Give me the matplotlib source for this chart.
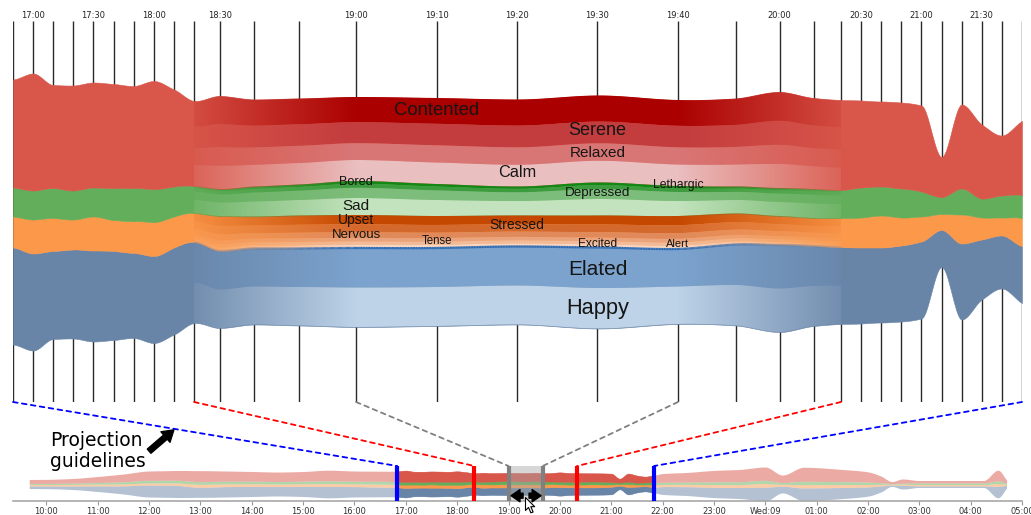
"""Focus+context streamgraph of mood reports, with an overview strip below."""

import numpy as np
import matplotlib
matplotlib.use("Agg")
import matplotlib.pyplot as plt
from matplotlib.collections import LineCollection
from matplotlib.colors import to_rgb
from matplotlib.markers import MarkerStyle
from matplotlib.patches import ConnectionPatch, FancyArrowPatch
from matplotlib.path import Path

# ---- data: aggregate mood counts per sample (hours >= 24 are next day) ----
TIMES = ["09:40", "10:00", "10:30", "11:00", "11:30", "12:00", "12:30", "13:00",
         "13:30", "14:00", "14:30", "15:00", "15:30", "16:00", "16:30",
         "16:50", "17:00", "17:10", "17:20", "17:30", "17:40", "17:50", "18:00",
         "18:10", "18:20", "18:30", "18:40", "18:50", "19:00", "19:10", "19:20",
         "19:30", "19:40", "19:50", "20:00", "20:10", "20:20", "20:30", "20:40",
         "20:50", "21:00", "21:10", "21:20", "21:30", "21:40", "21:50",
         "22:00", "22:30", "23:00", "23:30", "24:00", "24:20", "24:45", "25:30",
         "26:00", "26:15", "26:28", "26:40", "27:00", "27:30", "28:00", "28:15",
         "28:32", "28:42"]
RED = [41, 42, 48, 62, 80, 96, 100, 113, 105, 100, 98, 100, 110, 105, 104,
       108, 117, 103, 105, 105, 104, 102, 108, 97, 85, 93, 87, 86, 84, 86, 87,
       87, 86, 88, 96, 91, 90, 87, 85, 86, 86, 40, 84, 74, 60, 74,
       90, 100, 118, 126, 137, 78, 145, 126, 105, 69, 20, 43, 25, 25, 25, 25,
       110, 33]
GREEN = [10, 11, 13, 17, 22, 28, 28, 28, 28, 27, 26, 27, 29, 28, 29,
         29, 29, 30, 29, 29, 32, 33, 33, 30, 27, 27, 30, 31, 34, 32, 29,
         33, 30, 27, 28, 29, 28, 30, 29, 29, 25, 17, 26, 19, 22, 23,
         22, 24, 28, 30, 33, 19, 34, 30, 25, 17, 8, 11, 17, 17, 17, 17,
         28, 11]
ORANGE = [15, 15, 16, 18, 20, 21, 25, 31, 28, 27, 26, 27, 29, 28, 31,
          31, 34, 33, 30, 34, 31, 32, 34, 31, 29, 35, 32, 33, 33, 32, 31,
          32, 33, 31, 29, 28, 29, 30, 32, 28, 25, 16, 29, 22, 18, 28,
          22, 24, 28, 30, 37, 19, 34, 30, 25, 17, 8, 11, 13, 13, 13, 13,
          28, 11]
BLUE = [27, 28, 36, 58, 84, 123, 125, 103, 107, 104, 97, 104, 117, 107, 100,
        97, 97, 88, 89, 91, 89, 85, 87, 87, 81, 77, 76, 77, 79, 78, 78,
        81, 75, 81, 87, 80, 77, 76, 75, 76, 77, 37, 76, 60, 53, 57,
        81, 92, 106, 114, 143, 69, 132, 114, 95, 62, 14, 38, 17, 17, 17, 17,
        119, 27]

# sub-moods inside each group, top to bottom, as share of the group
RED_MOODS = ["Contented", "Serene", "Relaxed", "Calm"]
RED_SHARE = [0.30, 0.25, 0.20, 0.25]
GREEN_MOODS = ["Bored", "Lethargic", "Depressed", "Sad"]
GREEN_SHARE = [0.08, 0.12, 0.30, 0.50]
ORANGE_MOODS = ["Upset", "Stressed", "Nervous", "Tense", "Excited", "Alert"]
ORANGE_SHARE = [0.28, 0.24, 0.17, 0.11, 0.10, 0.10]
BLUE_MOODS = ["Elated", "Happy"]
BLUE_SHARE = [0.5, 0.5]

# label: mood, time it is written at, font size, nudge up
LABELS = [("Contented", "19:10", 13.3, 0), ("Serene", "19:30", 13, 2),
          ("Relaxed", "19:30", 11, -1), ("Calm", "19:20", 11.7, 3),
          ("Bored", "19:00", 9.2, 0), ("Depressed", "19:30", 9.7, 1),
          ("Lethargic", "19:40", 8.8, 5), ("Sad", "19:00", 11, 1),
          ("Upset", "19:00", 10, 0), ("Stressed", "19:20", 10, 3),
          ("Nervous", "19:00", 9.5, 0), ("Tense", "19:10", 8.3, -1),
          ("Excited", "19:30", 8.6, -1), ("Alert", "19:40", 8, 3),
          ("Elated", "19:30", 15, -2), ("Happy", "19:30", 15.7, 0)]

TOP_TICKS = ["17:00", "17:30", "18:00", "18:30", "19:00", "19:10", "19:20", "19:30",
             "19:40", "20:00", "20:30", "21:00", "21:30"]
OV_TICK_HOURS = list(range(10, 30))

# lens: zoom factor of every 10-minute slice from 16:50 to 21:50
SEG_MAG = [1.0] * 9 + [1.3, 1.7, 2.2, 2.85] + [4.0] * 4 + [2.9, 2.15, 1.7, 1.35] + [1.0] * 9

# ---- style ----
AGG_COLORS = ["#6884a7", "#fc984a", "#63ae5b", "#d9574a"]  # blue, orange, green, red
RED_SUB = ["#aa0000", "#c33c3e", "#d87676", "#eabfc0"]
GREEN_SUB = ["#148814", "#3d9c3d", "#7dbd7b", "#c3e3be"]
ORANGE_SUB = ["#c44800", "#d4692e", "#e08a5c", "#e9a37d", "#f1bb9a", "#f8d6c2"]
BLUE_SUB = ["#7ba3ce", "#bed3e8"]
W, H = 1031, 515


def hm(s):
    h, m = s.split(":")
    return int(h) * 60 + int(m)


def pchip(x, y, xn):
    """Monotone cubic curve through the samples (d3 curveMonotoneX look)."""
    x = np.asarray(x, float)
    y = np.asarray(y, float)
    h = np.diff(x)
    d = np.diff(y) / h
    m = np.zeros_like(y)
    m[0], m[-1] = d[0], d[-1]
    for k in range(1, len(x) - 1):
        if d[k - 1] * d[k] > 0:
            w1, w2 = 2 * h[k] + h[k - 1], h[k] + 2 * h[k - 1]
            m[k] = (w1 + w2) / (w1 / d[k - 1] + w2 / d[k])
    i = np.clip(np.searchsorted(x, xn) - 1, 0, len(x) - 2)
    s = (xn - x[i]) / h[i]
    return (y[i] * (2 * s**3 - 3 * s**2 + 1) + h[i] * m[i] * (s**3 - 2 * s**2 + s)
            + y[i + 1] * (-2 * s**3 + 3 * s**2) + h[i] * m[i + 1] * (s**3 - s**2))


T_MIN = np.array([hm(s) for s in TIMES], float)
T0, T1 = hm("16:50"), hm("21:50")
K_T = T0 + 10.0 * np.arange(len(SEG_MAG) + 1)
K_U = np.concatenate([[0.0], np.cumsum(np.array(SEG_MAG) * 10)])


def lens_fwd(t):
    t = np.asarray(t, float)
    u = np.interp(t, K_T, K_U)
    u = np.where(t < K_T[0], K_U[0] + t - K_T[0], u)
    return np.where(t > K_T[-1], K_U[-1] + t - K_T[-1], u)


def lens_inv(u):
    u = np.asarray(u, float)
    t = np.interp(u, K_U, K_T)
    t = np.where(u < K_U[0], K_T[0] + u - K_U[0], t)
    return np.where(u > K_U[-1], K_T[-1] + u - K_U[-1], t)


def focus_weight(u):
    ul0, ul1 = lens_fwd(hm("18:20")), lens_fwd(hm("19:00"))
    ur0, ur1 = lens_fwd(hm("19:40")), lens_fwd(hm("20:20"))
    ramp = np.minimum(np.clip((u - ul0) / (ul1 - ul0), 0, 1),
                      np.clip((ur1 - u) / (ur1 - ur0), 0, 1))
    return np.where((u >= ul0) & (u <= ur1), 0.12 + 0.88 * ramp, 0.0)


def stack(t):
    vals = [np.clip(pchip(T_MIN, v, t), 0, None) for v in (BLUE, ORANGE, GREEN, RED)]
    lo = -sum(vals) / 2
    out = []
    for v in vals:
        out.append((lo, lo + v))
        lo = lo + v
    return out


fig = plt.figure(figsize=(W / 100, H / 100), dpi=100)

# ---- main lens view ----
ax = fig.add_axes([13 / W, 1 - 402 / H, 1009 / W, 381 / H])
ax.set_xscale("function", functions=(lens_fwd, lens_inv))
YLO, YHI = -190, 191
for s in ax.spines.values():
    s.set_visible(False)
ax.set_yticks([])

ax.vlines(np.arange(T0, T1 + 1, 10), YLO, YHI, colors="#2a2a2a", lw=1, zorder=0)

tm = np.linspace(T0, T1, 1501)
groups = stack(tm)
for (lo, hi), col in zip(groups, AGG_COLORS):
    ax.fill_between(tm, lo, hi, color=col, lw=0.4, edgecolor=col, zorder=2)

N = 1009
u_cols = K_U[0] + (np.arange(N) + 0.5) / N * (K_U[-1] - K_U[0])
w_cols = focus_weight(u_cols)

subs = {}
for (lo, hi), names, shares, cols in zip(
        groups[::-1],
        [RED_MOODS, GREEN_MOODS, ORANGE_MOODS, BLUE_MOODS],
        [RED_SHARE, GREEN_SHARE, ORANGE_SHARE, BLUE_SHARE],
        [RED_SUB, GREEN_SUB, ORANGE_SUB, BLUE_SUB]):
    top = hi
    for name, share, col in zip(names, shares, cols):
        bot = top - share * (hi - lo)
        subs[name] = (bot, top)
        rgba = np.zeros((1, N, 4))
        rgba[..., :3] = to_rgb(col)
        rgba[..., 3] = w_cols
        verts = np.column_stack([np.r_[tm, tm[::-1]], np.r_[top, bot[::-1]]])
        clip = Path(np.vstack([verts, verts[:1]]), closed=True)
        im = ax.imshow(rgba, extent=(0, 1, 0, 1), transform=ax.transAxes,
                       aspect="auto", interpolation="nearest", zorder=3)
        im.set_clip_path(clip, ax.transData)
        top = bot

# darker rim on top of "Elated"
e_top = subs["Elated"][1]
pts = np.column_stack([tm, e_top])
segs = np.stack([pts[:-1], pts[1:]], axis=1)
wt = focus_weight(lens_fwd((tm[:-1] + tm[1:]) / 2))
rim = np.zeros((len(segs), 4))
rim[:, :3] = to_rgb("#2f6cb4")
rim[:, 3] = wt
ax.add_collection(LineCollection(segs, colors=rim, lw=1.6, zorder=4))

for name, t, size, dy in LABELS:
    bot, top = subs[name]
    y = np.interp(hm(t), tm, (bot + top) / 2) + dy
    ax.text(hm(t), y, name, ha="center", va="center", fontsize=size,
            family="Liberation Sans", color="#151515", zorder=6)

ax.set_xticks([hm(s) for s in TOP_TICKS])
ax.set_xticklabels(TOP_TICKS)
ax.xaxis.set_ticks_position("top")
ax.tick_params(axis="x", length=0, pad=0.8, labelsize=6, labelcolor="#222222")
ax.xaxis.set_minor_locator(matplotlib.ticker.NullLocator())
ax.set_xlim(T0, T1)
ax.set_ylim(YLO, YHI)

# ---- overview strip ----
PX_PER_UNIT = 0.097
OV_TOP = (484 - 466) / PX_PER_UNIT
OV_BOT = -(501 - 484) / PX_PER_UNIT
ov = fig.add_axes([13 / W, 1 - 501 / H, 1009 / W, 41 / H])
for k in ("top", "left", "right"):
    ov.spines[k].set_visible(False)
ov.spines["bottom"].set_color("#a8a8a8")
ov.spines["bottom"].set_linewidth(1.2)
ov.set_yticks([])

to = np.linspace(T_MIN[0], T_MIN[-1], 2400)
for (lo, hi), col in zip(stack(to), AGG_COLORS):
    ov.fill_between(to, lo, hi, color=col, alpha=0.5, lw=0, zorder=1)
for (lo, hi), col in zip(groups, AGG_COLORS):
    ov.fill_between(tm, lo, hi, color=col, lw=0.3, edgecolor=col, zorder=2)

f0, f1 = hm("19:00"), hm("19:40")
ov.fill_between([f0, f1], OV_BOT, OV_TOP, color="#a8a8a8", alpha=0.45, lw=0, zorder=3)

GUIDE_TIMES = ["16:50", "18:20", "19:00", "19:40", "20:20", "21:50"]
GUIDE_COLORS = ["#0000ff", "#ff0000", "#808080", "#808080", "#ff0000", "#0000ff"]
for s, col in zip(GUIDE_TIMES, GUIDE_COLORS):
    ov.vlines(hm(s), OV_BOT, OV_TOP, colors=col, lw=3, zorder=4)
    con = ConnectionPatch(xyA=(hm(s), YLO), coordsA="data", axesA=ax,
                          xyB=(hm(s), OV_TOP), coordsB="data", axesB=ov,
                          color=col, lw=1.3, linestyle=(0, (2.6, 2.4)))
    fig.add_artist(con)

arrow_y = -(495.7 - 484) / PX_PER_UNIT
for a, b in ((hm("19:17"), hm("19:03")), (hm("19:24"), hm("19:38"))):
    ov.annotate("", xy=(b, arrow_y), xytext=(a, arrow_y), zorder=5,
                arrowprops=dict(arrowstyle="simple,head_width=1.1,head_length=0.8,tail_width=0.45",
                                color="black", mutation_scale=8, shrinkA=0, shrinkB=0))
cursor = Path([(0, 0), (0, -17), (4, -13), (7, -20), (10, -19), (7, -12), (12, -12), (0, 0)],
              closed=True)
ov.plot([hm("19:19")], [-(497 - 484) / PX_PER_UNIT], marker=MarkerStyle(cursor),
        ms=22, mfc="white", mec="black", mew=0.8, clip_on=False, zorder=6)

ov.set_xticks([h * 60 for h in OV_TICK_HOURS])
ov.set_xticklabels(["Wed:09" if h == 24 else f"{h % 24:02d}:00" for h in OV_TICK_HOURS])
ov.tick_params(axis="x", length=3, color="#999999", labelsize=6, labelcolor="#333333", pad=1.5)
ov.set_xlim(hm("09:21"), hm("29:00"))
ov.set_ylim(OV_BOT, (484 - 460) / PX_PER_UNIT)

# ---- annotation ----
fig.text(50 / W, 1 - 451 / H, "Projection\nguidelines", fontsize=13.5,
         ha="left", va="center", linespacing=1.15, color="black")
fig.add_artist(FancyArrowPatch(
    posA=(147 / W, 1 - 453 / H), posB=(176 / W, 1 - 428 / H), transform=fig.transFigure,
    arrowstyle="simple,head_width=1.0,head_length=0.8,tail_width=0.4",
    mutation_scale=10, color="black"))

fig.savefig("out.png", dpi=100)
